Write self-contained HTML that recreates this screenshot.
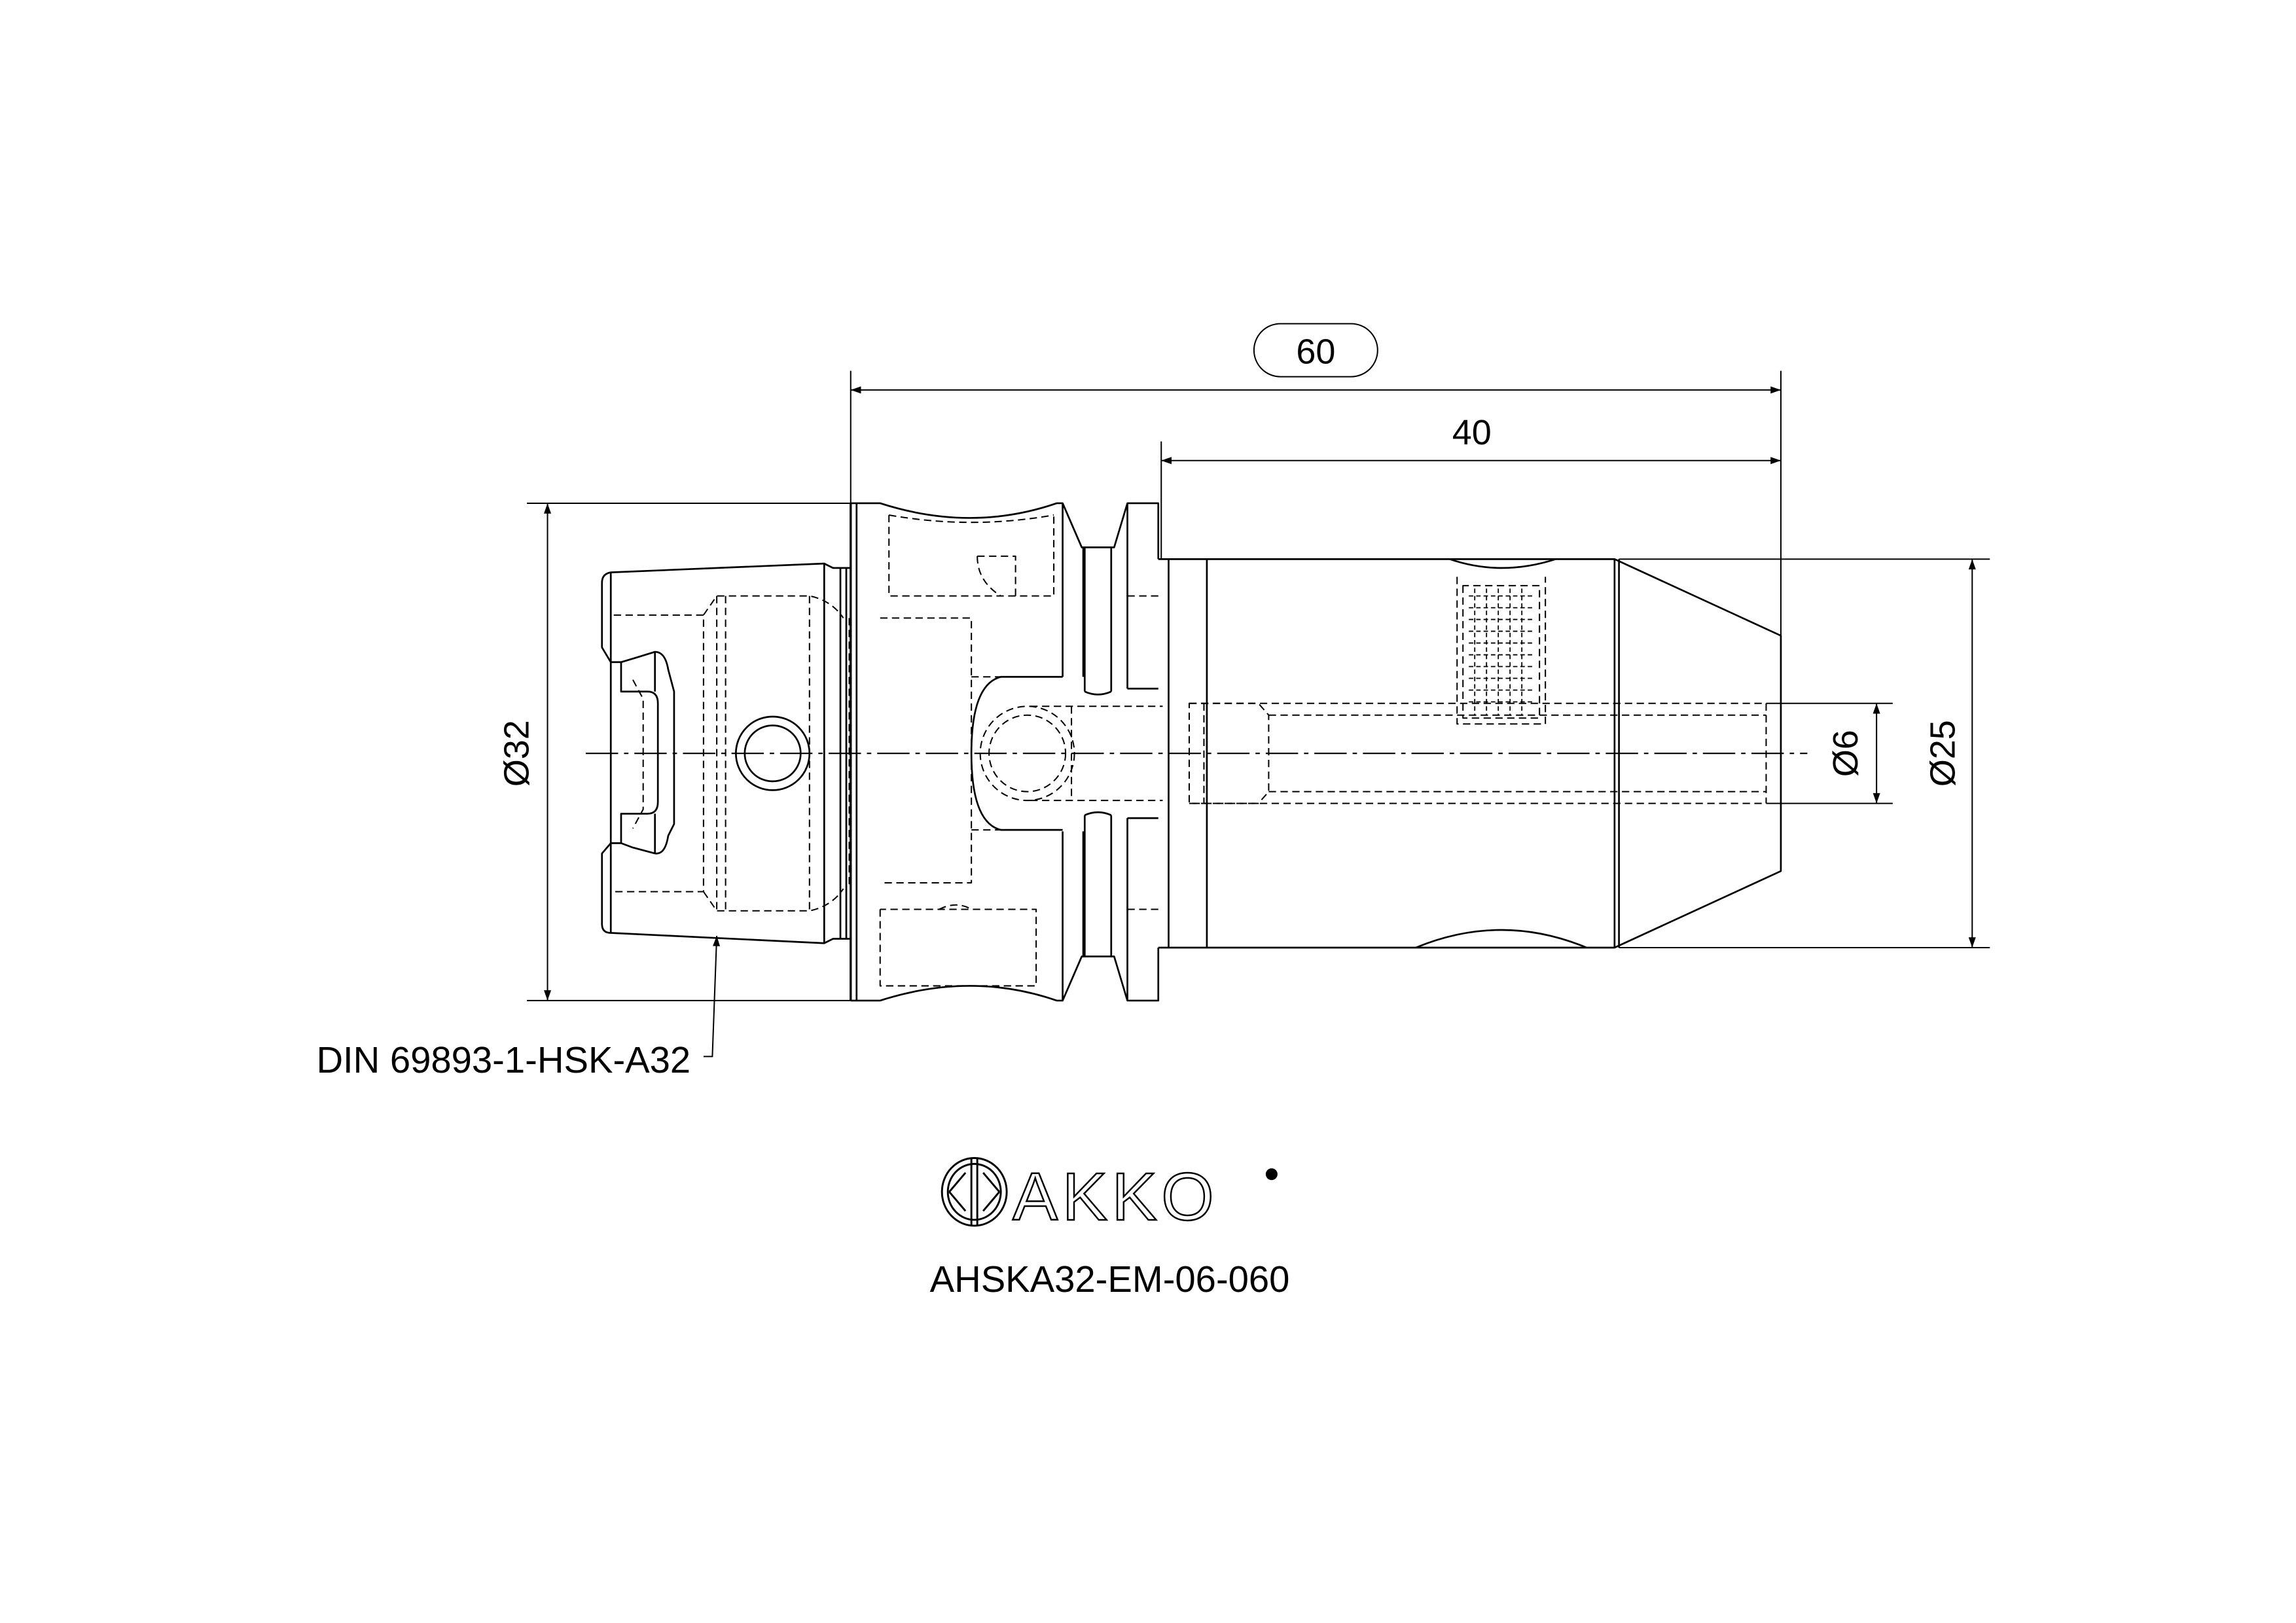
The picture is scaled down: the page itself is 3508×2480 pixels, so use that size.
<!DOCTYPE html>
<html><head><style>
html,body{margin:0;padding:0;background:#fff;}
svg{display:block;}
text{font-family:"Liberation Sans","DejaVu Sans",sans-serif;fill:#000;}
</style></head><body>
<svg width="3508" height="2480" viewBox="0 0 1560 1103" preserveAspectRatio="none" xmlns="http://www.w3.org/2000/svg">
<defs>
<marker id="ar" viewBox="0 0 10 10" refX="10" refY="5" markerWidth="14" markerHeight="7" markerUnits="userSpaceOnUse" orient="auto-start-reverse">
<path d="M0,1.5 L10,5 L0,8.5 z" fill="#000"/>
</marker>
</defs>
<g fill="none" stroke="#000" stroke-width="1.2" stroke-linejoin="round">
<line x1="398" y1="512" x2="1228" y2="512" stroke-width="0.9" stroke-dasharray="22,4,3,4"/>
<path d="M415,389 L560,383 L566,386 L578,386 M415,389 Q409,390 409,396 L409,440 L415,450 L422,450 L432,447 L445,443 Q452,443 454,455 L458,470 L458,560 L454,568 Q452,581 445,580 L430,576 L422,573 L415,573 L409,580 L409,628 Q409,634 415,634 L560,641 L566,638 L578,638"/>
<line x1="415" y1="389" x2="415" y2="634"/>
<path d="M422,450 L422,470 L440,470 Q447,470 447,478 L447,545 Q447,553 440,553 L422,553 L422,573"/>
<line x1="445" y1="443" x2="445" y2="470"/><line x1="445" y1="553" x2="445" y2="580"/>
<line x1="560" y1="383" x2="560" y2="641"/>
<line x1="571" y1="386" x2="571" y2="638"/>
<line x1="575" y1="386" x2="575" y2="638"/>
<circle cx="525" cy="512" r="25"/>
<circle cx="525" cy="512" r="19"/>
<g stroke-width="0.9" stroke-dasharray="5,3">
<path d="M417,418 L478,418 L478,606 L417,606"/>
<path d="M478,418 L487,405 L550,405 Q565,408 573,420"/>
<path d="M478,606 L487,619 L550,619 Q565,616 573,604"/>
<line x1="487" y1="405" x2="487" y2="619"/>
<line x1="493" y1="405" x2="493" y2="619"/>
<line x1="550" y1="405" x2="550" y2="619"/>
<line x1="577" y1="420" x2="577" y2="604"/>
<path d="M430,462 L437,475 L437,550 L430,563"/>
</g>
<line x1="578" y1="342" x2="578" y2="680" stroke-width="1.5"/>
<path d="M578,342 L598,342 Q660,362 718,342 L722,342 L735,372 L736,372 L736,460 M722,342 L722,460"/>
<path d="M578,680 L598,680 Q660,660 718,680 L722,680 L735,650 L736,650 L736,565 M722,680 L722,565"/>
<line x1="582" y1="342" x2="582" y2="680"/>
<path d="M735,372 L757,372 L766,342 L787,342 L787,380"/>
<path d="M735,650 L757,650 L766,680 L787,680 L787,644"/>
<line x1="737" y1="372" x2="737" y2="470"/><line x1="755" y1="372" x2="755" y2="470"/>
<path d="M737,470 Q746,474 755,470"/>
<line x1="737" y1="650" x2="737" y2="554"/><line x1="755" y1="650" x2="755" y2="554"/>
<path d="M737,554 Q746,550 755,554"/>
<line x1="766" y1="342" x2="766" y2="468"/><line x1="766" y1="680" x2="766" y2="556"/>
<line x1="766" y1="468" x2="787" y2="468"/><line x1="766" y1="556" x2="787" y2="556"/>
<path d="M722,460 L680,460 Q660,465 660,512 Q660,559 680,564 L722,564"/>
<path d="M787,380 Q790,380 794,380 L1097,380 L1210,432 L1210,592 L1097,644 L794,644 L787,644"/>
<line x1="820" y1="380" x2="820" y2="644"/>
<line x1="794" y1="380" x2="794" y2="644"/>
<line x1="1097" y1="380" x2="1097" y2="644"/>
<line x1="1100" y1="380" x2="1100" y2="644"/>
<path d="M985,380 Q1020,392 1057,380"/>
<path d="M962,644 Q1020,620 1078,644"/>
<g stroke-width="0.9" stroke-dasharray="5,3">
<path d="M604,350 L604,405 L716,405 L716,350"/>
<path d="M604,350 Q660,360 716,350"/>
<path d="M664,378 L690,378 L690,405 M664,378 Q664,395 680,405"/>
<path d="M598,420 L660,420 L660,600 L598,600"/>
<path d="M660,460 L722,460"/><path d="M660,564 L722,564"/>
<path d="M598,618 L598,670 L704,670 L704,618 L598,618"/>
<path d="M638,618 Q650,612 660,618"/>
<circle cx="698" cy="512" r="32"/>
<circle cx="698" cy="512" r="26"/>
<path d="M700,480 L790,480 M700,544 L790,544"/>
<line x1="728" y1="480" x2="728" y2="544"/>
<path d="M740,372 L755,372 M766,405 L787,405 M766,618 L787,618"/>
<path d="M808,478 L855,478 L862,486 L862,538 L855,546 L808,546 Z"/>
<line x1="818" y1="478" x2="818" y2="546"/>
<path d="M862,486 L1200,486 M862,538 L1200,538"/>
<path d="M808,478 L1200,478 M808,546 L1200,546"/>
<line x1="1200" y1="478" x2="1200" y2="546"/>
<path d="M990,392 L990,492 L1050,492 L1050,392"/>
<path d="M994,398 L994,488 L1046,488 L1046,398 Z"/>
</g>
<g stroke-width="0.8" stroke-dasharray="3,2">
<line x1="998" y1="405" x2="1042" y2="405"/><line x1="998" y1="413" x2="1042" y2="413"/>
<line x1="998" y1="421" x2="1042" y2="421"/><line x1="998" y1="429" x2="1042" y2="429"/>
<line x1="998" y1="437" x2="1042" y2="437"/><line x1="998" y1="445" x2="1042" y2="445"/>
<line x1="998" y1="453" x2="1042" y2="453"/><line x1="998" y1="461" x2="1042" y2="461"/>
<line x1="998" y1="469" x2="1042" y2="469"/><line x1="998" y1="477" x2="1042" y2="477"/>
<line x1="1002" y1="400" x2="1002" y2="486"/><line x1="1010" y1="400" x2="1010" y2="486"/>
<line x1="1018" y1="400" x2="1018" y2="486"/><line x1="1026" y1="400" x2="1026" y2="486"/>
<line x1="1034" y1="400" x2="1034" y2="486"/>
</g>
</g>
<g fill="none" stroke="#000" stroke-width="0.9">
<line x1="578" y1="252" x2="578" y2="342"/>
<line x1="1210" y1="252" x2="1210" y2="432"/>
<line x1="789" y1="300" x2="789" y2="380"/>
<line x1="578" y1="265" x2="1210" y2="265" marker-start="url(#ar)" marker-end="url(#ar)"/>
<line x1="789" y1="313" x2="1210" y2="313" marker-start="url(#ar)" marker-end="url(#ar)"/>
<rect x="852" y="220" width="84" height="36" rx="18"/>
<line x1="358" y1="342" x2="578" y2="342"/>
<line x1="358" y1="680" x2="578" y2="680"/>
<line x1="372" y1="342" x2="372" y2="680" marker-start="url(#ar)" marker-end="url(#ar)"/>
<line x1="1100" y1="380" x2="1352" y2="380"/>
<line x1="1100" y1="644" x2="1352" y2="644"/>
<line x1="1340" y1="380" x2="1340" y2="644" marker-start="url(#ar)" marker-end="url(#ar)"/>
<line x1="1200" y1="478" x2="1286" y2="478"/>
<line x1="1200" y1="546" x2="1286" y2="546"/>
<line x1="1275" y1="478" x2="1275" y2="546" marker-start="url(#ar)" marker-end="url(#ar)"/>
<path d="M478,718 L484,718 L487,636" marker-end="url(#ar)"/>
</g>
<g font-size="24">
<text x="894" y="247" text-anchor="middle">60</text>
<text x="1000" y="302" text-anchor="middle">40</text>
<text transform="translate(359,512) rotate(-90)" text-anchor="middle">Ø32</text>
<text transform="translate(1262,512) rotate(-90)" text-anchor="middle">Ø6</text>
<text transform="translate(1328,512) rotate(-90)" text-anchor="middle">Ø25</text>
<text x="215" y="729" font-size="25">DIN 69893-1-HSK-A32</text>
<text x="754" y="878" text-anchor="middle" font-size="25">AHSKA32-EM-06-060</text>
</g>
<g fill="none" stroke="#000" stroke-width="1.3">
<ellipse cx="662" cy="810" rx="22" ry="23"/>
<ellipse cx="662" cy="810" rx="18" ry="19"/>
<line x1="660" y1="787" x2="660" y2="833"/><line x1="664" y1="787" x2="664" y2="833"/>
<path d="M645,810 L656,797 M645,810 L656,823 M679,810 L668,797 M679,810 L668,823"/>
</g>
<text x="688" y="829" font-size="46" style="fill:#fff;stroke:#000;stroke-width:1.1;letter-spacing:3px">AKKO</text>
<circle cx="864" cy="798" r="4" fill="#000"/>
</svg>
</body></html>
